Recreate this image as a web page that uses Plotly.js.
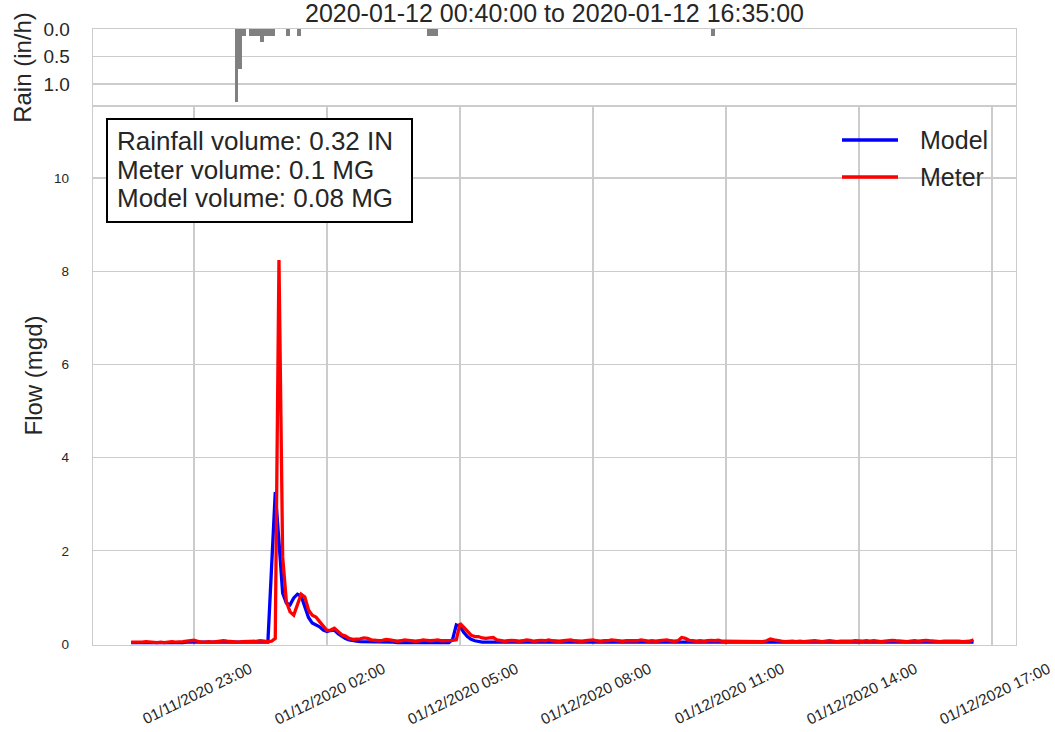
<!DOCTYPE html>
<html>
<head>
<meta charset="utf-8">
<script src="https://cdn.plot.ly/plotly-3.0.1.min.js"></script>
<style>html,body{margin:0;padding:0;background:#fff;}#chart{width:1055px;height:732px;}</style>
</head>
<body>
<div id="chart"></div>
<script>
// ---- Data (5-minute flow series starting 2020-01-11 21:35) ----
const flowStart = '2020-01-11 21:35';
const stepMinutes = 5;

const meterFlow = [
  0.04,0.04,0.03,0.04,0.05,0.04,0.03,0.03,0.04,0.03,
  0.04,0.05,0.04,0.04,0.05,0.06,0.07,0.08,0.06,0.04,
  0.04,0.05,0.04,0.05,0.06,0.07,0.06,0.05,0.05,0.04,
  0.05,0.05,0.06,0.05,0.06,0.07,0.06,0.05,0.06,
  0.12,8.24,1.87,0.91,0.69,0.62,0.84,1.07,1.01,0.73,
  0.62,0.58,0.48,0.37,0.29,0.30,0.34,0.27,0.20,0.17,
  0.12,0.10,0.10,0.11,0.13,0.12,0.09,0.08,0.07,0.08,
  0.10,0.09,0.07,0.06,0.07,0.09,0.08,0.07,0.06,0.07,
  0.09,0.08,0.07,0.08,0.09,0.07,0.07,0.08,0.08,0.09,
  0.44,0.36,0.27,0.19,0.16,0.16,0.13,0.12,0.13,0.14,0.09,0.07,
  0.06,0.07,0.08,0.07,0.06,0.07,0.09,0.08,0.06,0.07,0.08,0.07,
  0.09,0.07,0.06,0.06,0.07,0.08,0.09,0.07,0.06,0.06,0.07,0.08,
  0.09,0.07,0.06,0.07,0.07,0.09,0.08,0.06,0.06,0.07,0.07,0.08,
  0.07,0.09,0.07,0.06,0.07,0.06,0.07,0.08,0.09,0.07,0.06,0.07,
  0.14,0.12,0.08,0.07,0.06,0.07,0.06,0.07,0.08,0.07,0.08,0.06,
  0.06,0.05,0.05,0.06,0.05,0.05,0.06,0.05,0.06,0.06,0.05,0.07,
  0.11,0.09,0.07,0.06,0.05,0.06,0.06,0.05,0.06,0.05,0.06,0.06,
  0.07,0.06,0.05,0.06,0.07,0.06,0.05,0.06,0.06,0.05,0.06,0.07,
  0.06,0.06,0.07,0.06,0.07,0.06,0.05,0.06,0.07,0.08,0.07,0.06,
  0.06,0.05,0.06,0.07,0.06,0.07,0.08,0.07,0.06,0.06,0.05,0.06,
  0.06,0.07,0.06,0.06,0.05,0.06,0.06,0.09
];

const modelFlow = [
  0.03,0.03,0.03,0.03,0.03,0.03,0.03,0.02,0.03,0.03,
  0.03,0.03,0.03,0.03,0.03,0.04,0.04,0.04,0.03,0.03,
  0.03,0.03,0.03,0.03,0.04,0.04,0.04,0.03,0.03,0.03,
  0.03,0.03,0.03,0.04,0.03,0.03,0.03,
  0.04,1.65,3.26,2.20,1.09,0.88,0.84,0.99,1.07,1.03,
  0.80,0.57,0.45,0.41,0.37,0.30,0.27,0.29,0.30,0.22,0.16,0.12,
  0.09,0.07,0.06,0.05,0.05,0.05,0.04,0.04,0.04,0.04,
  0.04,0.04,0.04,0.03,0.03,0.03,0.03,0.03,0.03,0.03,
  0.03,0.03,0.03,0.03,0.03,0.03,0.03,0.03,
  0.10,0.41,0.38,0.25,0.16,0.10,0.07,0.05,0.04,0.04,0.04,0.03,0.03,0.03,
  0.03,0.03,0.03,0.03,0.03,0.03,0.04,0.03,0.03,0.03,0.03,0.03,
  0.03,0.03,0.03,0.03,0.03,0.03,0.03,0.03,0.03,0.03,0.03,0.03,
  0.04,0.03,0.03,0.03,0.03,0.03,0.03,0.03,0.03,0.03,0.03,0.03,
  0.03,0.03,0.03,0.03,0.03,0.03,0.03,0.03,0.03,0.03,0.03,0.03,
  0.04,0.04,0.03,0.03,0.03,0.03,0.03,0.03,0.03,0.03,0.03,0.03,
  0.03,0.03,0.03,0.03,0.03,0.03,0.03,0.03,0.03,0.03,0.03,0.03,
  0.04,0.03,0.03,0.03,0.03,0.03,0.03,0.03,0.03,0.03,0.03,0.03,
  0.03,0.03,0.03,0.03,0.03,0.03,0.03,0.03,0.03,0.03,0.03,0.03,
  0.03,0.03,0.03,0.03,0.03,0.03,0.03,0.03,0.03,0.03,0.03,0.03,
  0.03,0.03,0.03,0.03,0.03,0.03,0.03,0.03,0.03,0.03,0.03,0.03,
  0.03,0.03,0.03,0.03,0.03,0.03,0.03,0.04
];

// Rain (in/h), 5-minute bars, time = bar start
const rainTimes = [
  '2020-01-11 23:55','2020-01-12 00:00','2020-01-12 00:05','2020-01-12 00:15',
  '2020-01-12 00:20','2020-01-12 00:25','2020-01-12 00:30','2020-01-12 00:35',
  '2020-01-12 00:40','2020-01-12 00:45','2020-01-12 01:05','2020-01-12 01:20',
  '2020-01-12 04:15','2020-01-12 04:20','2020-01-12 04:25','2020-01-12 10:40'
];
const rainRate = [1.32,0.72,0.12,0.12,0.12,0.12,0.24,0.12,0.12,0.12,0.12,0.12,0.12,0.12,0.12,0.12];

const xTickVals = ['2020-01-11 23:00','2020-01-12 02:00','2020-01-12 05:00','2020-01-12 08:00',
                   '2020-01-12 11:00','2020-01-12 14:00','2020-01-12 17:00'];
const xTickText = ['01/11/2020 23:00','01/12/2020 02:00','01/12/2020 05:00','01/12/2020 08:00',
                   '01/12/2020 11:00','01/12/2020 14:00','01/12/2020 17:00'];
const flowTickVals = [0,2,4,6,8,10];
const rainTickVals = [0,0.5,1.0];
const rainTickText = ['0.0','0.5','1.0'];

const titleText = '2020-01-12 00:40:00 to 2020-01-12 16:35:00';
const statsLines = ['Rainfall volume: 0.32 IN','Meter volume: 0.1 MG','Model volume: 0.08 MG'];
const seriesNames = ['Model','Meter'];

// ---- build timestamps ----
function pad(n){return (n<10?'0':'')+n;}
function fmt(ms){const d=new Date(ms);return d.getUTCFullYear()+'-'+pad(d.getUTCMonth()+1)+'-'+pad(d.getUTCDate())+' '+pad(d.getUTCHours())+':'+pad(d.getUTCMinutes());}
const startMs = Date.UTC(2020,0,11,21,35);
const flowTimes = meterFlow.map((_,i)=>fmt(startMs + i*stepMinutes*60000));

const FONT = 'Liberation Sans, Arial, Helvetica, sans-serif';
const TXT = '#262626';
const GRID = '#cccccc';

const traces = [
  {x: flowTimes, y: modelFlow, type:'scatter', mode:'lines', name: seriesNames[0],
   line:{color:'#0000ff', width:3.3}, xaxis:'x', yaxis:'y', showlegend:false},
  {x: flowTimes, y: meterFlow, type:'scatter', mode:'lines', name: seriesNames[1],
   line:{color:'#ff0000', width:3.3}, xaxis:'x', yaxis:'y', showlegend:false},
  {x: rainTimes, y: rainRate, type:'bar', name:'Rain', offset:0, width:300000,
   marker:{color:'#808080', line:{width:0}}, xaxis:'x2', yaxis:'y2', showlegend:false}
];

const L=93, R=1016, T=29, B=645;
const pw=R-L, ph=B-T;
const px=(x)=>(x-L)/pw, py=(y)=>1-(y-T)/ph;

const annotations = [];
const ys=[141.5,169.5,197.5];
statsLines.forEach((s,i)=>annotations.push({xref:'paper',yref:'paper',x:px(115),y:py(ys[i]),
  xanchor:'left',yanchor:'middle',text:s,showarrow:false,font:{family:FONT,size:26,color:TXT}}));
annotations.push({xref:'paper',yref:'paper',x:px(918),y:py(140),xanchor:'left',yanchor:'middle',
  text:seriesNames[0],showarrow:false,font:{family:FONT,size:25,color:TXT}});
annotations.push({xref:'paper',yref:'paper',x:px(918),y:py(177),xanchor:'left',yanchor:'middle',
  text:seriesNames[1],showarrow:false,font:{family:FONT,size:25,color:TXT}});

const shapes = [
  {type:'rect',xref:'paper',yref:'paper',x0:px(107),x1:px(412),y0:py(222),y1:py(119),
   line:{color:'#000000',width:2},fillcolor:'#ffffff',layer:'above'},
  {type:'line',xref:'paper',yref:'paper',x0:px(842),x1:px(898),y0:py(140),y1:py(140),
   line:{color:'#0000ff',width:3.5},layer:'above'},
  {type:'line',xref:'paper',yref:'paper',x0:px(842),x1:px(898),y0:py(177),y1:py(177),
   line:{color:'#ff0000',width:3.5},layer:'above'}
];

const layout = {
  width:1055, height:732,
  paper_bgcolor:'#ffffff', plot_bgcolor:'#ffffff',
  margin:{l:L, r:1055-R, t:T, b:732-B, pad:0},
  font:{family:FONT, color:TXT},
  title:{text:titleText, font:{family:FONT,size:25,color:TXT}, x:0.5, xref:'paper', xanchor:'center',
         y:1-13/732, yref:'container', yanchor:'middle'},
  xaxis:{domain:[0,1], anchor:'y', type:'date',
    range:['2020-01-11 20:43:19','2020-01-12 17:32:29'],
    tickmode:'array', tickvals:xTickVals, ticktext:xTickText, tickangle:-26,
    tickfont:{family:FONT,size:15.5,color:TXT}, ticks:'', ticklabelshift:56, ticklabelstandoff:8,
    ticklabeloverflow:'allow',
    showgrid:true, gridcolor:GRID, gridwidth:1.3, zeroline:false,
    showline:true, mirror:true, linecolor:GRID, linewidth:1.3, automargin:false},
  yaxis:{domain:[0,0.875], anchor:'x', range:[-0.021,11.546],
    tickmode:'array', tickvals:flowTickVals, tickfont:{family:FONT,size:13.5,color:TXT},
    ticks:'', ticklabelstandoff:20,
    showgrid:true, gridcolor:GRID, gridwidth:1.3, zeroline:false,
    showline:true, mirror:true, linecolor:GRID, linewidth:1.3, automargin:false,
    title:{text:'Flow (mgd)', font:{family:FONT,size:24,color:TXT}, standoff:4}},
  xaxis2:{domain:[0,1], anchor:'y2', type:'date', matches:'x', showticklabels:false, ticks:'',
    showgrid:false, zeroline:false, showline:true, mirror:true, linecolor:GRID, linewidth:1.3},
  yaxis2:{domain:[0.875,1], anchor:'x2', range:[1.4,0],
    tickmode:'array', tickvals:rainTickVals, ticktext:rainTickText,
    tickfont:{family:FONT,size:19,color:TXT}, ticks:'', ticklabelstandoff:18,
    showgrid:true, gridcolor:GRID, gridwidth:1.3, zeroline:false,
    showline:true, mirror:true, linecolor:GRID, linewidth:1.3, automargin:false,
    title:{text:'Rain (in/h)', font:{family:FONT,size:24,color:TXT}, standoff:5}},
  bargap:0,
  annotations:annotations,
  shapes:shapes
};

Plotly.newPlot('chart', traces, layout, {displayModeBar:false, staticPlot:true});
</script>
</body>
</html>
